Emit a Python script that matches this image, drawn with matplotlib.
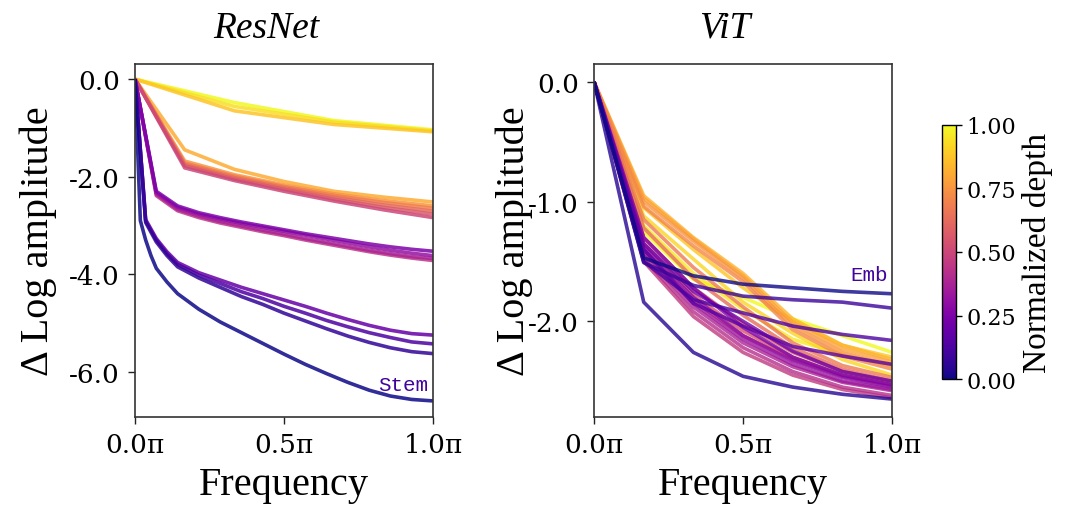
import matplotlib
matplotlib.use("Agg")
import matplotlib.pyplot as plt
from matplotlib import cm
from matplotlib.colors import Normalize
from matplotlib.ticker import FuncFormatter

# ---------------- ResNet: relative log amplitude per feature map ----------------
# frequency grids (in units of pi), one per feature-map resolution
freq_stem = [k / 56 for k in [0, 1, 2, 3, 4, 6, 8, 12, 16, 20, 24, 28, 32, 36, 40, 44, 48, 52, 56]]
freq_s1 = [k / 28 for k in [0, 1, 2, 3, 4, 6, 8, 10, 12, 14, 16, 18, 20, 22, 24, 26, 28]]
freq_s2 = [k / 14 for k in range(15)]
freq_s3 = [k / 6 for k in range(7)]
freq_s4 = [k / 3 for k in range(4)]

resnet_stem = [0, -2.90, -3.30, -3.62, -3.88, -4.16, -4.40, -4.72, -4.98, -5.20,
               -5.42, -5.64, -5.85, -6.04, -6.22, -6.38, -6.50, -6.57, -6.60]

resnet_stage1 = [
    [0, -2.94, -3.34, -3.62, -3.85, -4.08, -4.27, -4.46, -4.62, -4.80, -4.96, -5.12, -5.27, -5.40, -5.51, -5.59, -5.63],
    [0, -2.91, -3.30, -3.58, -3.80, -4.02, -4.19, -4.36, -4.50, -4.66, -4.80, -4.95, -5.08, -5.20, -5.30, -5.39, -5.43],
    [0, -2.88, -3.27, -3.54, -3.76, -3.97, -4.12, -4.27, -4.40, -4.53, -4.66, -4.80, -4.93, -5.05, -5.15, -5.22, -5.25],
]

resnet_stage2 = [
    [0, -2.30, -2.60, -2.74, -2.84, -2.93, -3.01, -3.09, -3.17, -3.24, -3.31, -3.38, -3.44, -3.49, -3.53],
    [0, -2.33, -2.63, -2.77, -2.87, -2.96, -3.04, -3.12, -3.20, -3.28, -3.36, -3.44, -3.51, -3.57, -3.62],
    [0, -2.36, -2.67, -2.81, -2.92, -3.01, -3.10, -3.18, -3.27, -3.35, -3.43, -3.51, -3.58, -3.64, -3.68],
    [0, -2.39, -2.70, -2.84, -2.95, -3.04, -3.13, -3.21, -3.30, -3.38, -3.46, -3.54, -3.61, -3.67, -3.72],
]

resnet_stage3 = [
    [0, -1.82, -2.08, -2.30, -2.50, -2.68, -2.84],
    [0, -1.78, -2.05, -2.26, -2.46, -2.63, -2.77],
    [0, -1.75, -2.02, -2.23, -2.42, -2.58, -2.71],
    [0, -1.72, -1.99, -2.20, -2.38, -2.53, -2.65],
    [0, -1.68, -1.96, -2.17, -2.35, -2.49, -2.60],
    [0, -1.45, -1.85, -2.10, -2.30, -2.42, -2.52],
]

resnet_stage4 = [
    [0, -0.65, -0.93, -1.08],
    [0, -0.56, -0.88, -1.06],
    [0, -0.48, -0.85, -1.04],
]

# ---------------- ViT: embedding followed by the blocks ----------------
freq_vit = [k / 6 for k in range(7)]
vit_curves = [
    [0, -1.47, -1.62, -1.69, -1.72, -1.75, -1.77],   # Emb
    [0, -1.84, -2.26, -2.46, -2.55, -2.61, -2.65],
    [0, -1.51, -1.70, -1.79, -1.82, -1.84, -1.89],
    [0, -1.50, -1.82, -1.93, -2.04, -2.11, -2.16],
    [0, -1.40, -1.85, -2.04, -2.21, -2.29, -2.36],
    [0, -1.35, -1.75, -2.00, -2.25, -2.42, -2.50],
    [0, -1.30, -1.72, -2.05, -2.30, -2.45, -2.53],
    [0, -1.38, -1.80, -2.12, -2.33, -2.47, -2.55],
    [0, -1.42, -1.85, -2.15, -2.36, -2.50, -2.57],
    [0, -1.45, -1.88, -2.18, -2.38, -2.51, -2.58],
    [0, -1.48, -1.92, -2.22, -2.42, -2.55, -2.62],
    [0, -1.50, -1.96, -2.26, -2.45, -2.57, -2.64],
    [0, -1.40, -1.83, -2.12, -2.32, -2.46, -2.54],
    [0, -1.35, -1.78, -2.08, -2.30, -2.45, -2.53],
    [0, -1.30, -1.72, -2.02, -2.26, -2.42, -2.51],
    [0, -1.22, -1.64, -1.95, -2.22, -2.40, -2.50],
    [0, -1.15, -1.55, -1.88, -2.18, -2.37, -2.47],
    [0, -1.04, -1.37, -1.67, -2.07, -2.29, -2.40],
    [0, -1.00, -1.33, -1.64, -2.04, -2.26, -2.37],
    [0, -0.97, -1.31, -1.62, -2.01, -2.23, -2.34],
    [0, -0.95, -1.30, -1.60, -1.98, -2.20, -2.32],
    [0, -1.05, -1.40, -1.72, -2.00, -2.20, -2.30],
    [0, -1.12, -1.48, -1.84, -2.10, -2.32, -2.45],
    [0, -1.20, -1.60, -1.90, -2.15, -2.28, -2.37],
    [0, -1.25, -1.65, -1.80, -1.98, -2.12, -2.26],
]

xticks = [0.0, 0.5, 1.0]
resnet_yticks = [-6.0, -4.0, -2.0, 0.0]
vit_yticks = [-2.0, -1.0, 0.0]
cbar_ticks = [0.0, 0.25, 0.5, 0.75, 1.0]

# ---------------- drawing ----------------
cmap = matplotlib.colormaps["plasma"]
norm = Normalize(0.0, 1.0)

SERIF = ["Liberation Serif", "DejaVu Serif"]
TICKFONT = ["DejaVu Serif"]
MONO = ["Liberation Mono", "DejaVu Sans Mono"]

fig = plt.figure(figsize=(10.69, 5.06), dpi=100)
ax_r = fig.add_axes([0.1263, 0.1739, 0.2788, 0.6976])
ax_v = fig.add_axes([0.5557, 0.1739, 0.2788, 0.6976])
cax = fig.add_axes([0.8812, 0.249, 0.0131, 0.502])

LW = 2.6

# ResNet curves, ordered by depth
resnet_lines = [(freq_stem, resnet_stem)]
resnet_lines += [(freq_s1, c) for c in resnet_stage1]
resnet_lines += [(freq_s2, c) for c in resnet_stage2]
resnet_lines += [(freq_s3, c) for c in resnet_stage3]
resnet_lines += [(freq_s4, c) for c in resnet_stage4]
n_r = len(resnet_lines)
for i, (fx, fy) in reversed(list(enumerate(resnet_lines))):
    ax_r.plot(fx, fy, color=cmap(norm(i / (n_r - 1))), lw=LW, alpha=0.85,
              solid_capstyle="butt")

n_v = len(vit_curves)
for i, fy in reversed(list(enumerate(vit_curves))):
    ax_v.plot(freq_vit, fy, color=cmap(norm(i / (n_v - 1))), lw=LW, alpha=0.8,
              solid_capstyle="butt")

label_color = cmap(0.1)
ax_r.text(0.985, -6.27, "Stem", family=MONO, fontsize=15, color=label_color,
          ha="right", va="center")
ax_v.text(0.985, -1.61, "Emb", family=MONO, fontsize=15, color=label_color,
          ha="right", va="center")

pi_fmt = FuncFormatter(lambda v, p: f"{v:.1f}π")
for ax, yt in ((ax_r, resnet_yticks), (ax_v, vit_yticks)):
    ax.set_xlim(0, 1)
    ax.set_xticks(xticks)
    ax.xaxis.set_major_formatter(pi_fmt)
    ax.set_yticks(yt)
    ax.yaxis.set_major_formatter(FuncFormatter(lambda v, p: f"{v:.1f}"))
    ax.tick_params(direction="out", length=5, width=1.0, labelsize=19, pad=6,
                   color="#222222")
    for t in ax.get_xticklabels() + ax.get_yticklabels():
        t.set_family(TICKFONT)
    for s in ax.spines.values():
        s.set_linewidth(1.2)
        s.set_color("#333333")
    ax.set_xlabel("Frequency", family=SERIF, fontsize=29)
    ax.xaxis.set_label_coords(0.5, -0.14)
    ax.set_ylabel("Δ Log amplitude", family=SERIF, fontsize=29)

ax_r.set_ylim(-6.93, 0.31)
ax_v.set_ylim(-2.80, 0.15)
ax_r.yaxis.set_label_coords(-0.262, 0.5)
ax_v.yaxis.set_label_coords(-0.205, 0.5)

ax_r.text(0.44, 1.077, "ResNet", transform=ax_r.transAxes, family=SERIF,
          style="italic", fontsize=27, ha="center", va="baseline")
ax_v.text(0.44, 1.077, "ViT", transform=ax_v.transAxes, family=SERIF,
          style="italic", fontsize=27, ha="center", va="baseline")

sm = cm.ScalarMappable(norm=norm, cmap=cmap)
sm.set_array([])
cb = fig.colorbar(sm, cax=cax, ticks=cbar_ticks)
cb.ax.yaxis.set_major_formatter(FuncFormatter(lambda v, p: f"{v:.2f}"))
cb.ax.tick_params(labelsize=16, length=4, width=1.0)
for t in cb.ax.get_yticklabels():
    t.set_family(TICKFONT)
cb.outline.set_linewidth(1.0)
cb.set_label("Normalized depth", family=SERIF, fontsize=24, labelpad=4)

fig.savefig("out.png", dpi=100)
